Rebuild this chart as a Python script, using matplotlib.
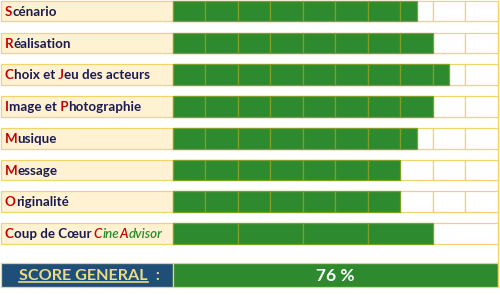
import matplotlib.pyplot as plt
import numpy as np

# --- donnees ---
criteres = [
    [("S", "r"), ("cénario", "n")],
    [("R", "r"), ("éalisation", "n")],
    [("C", "r"), ("hoix et", "n"), (" J", "r"), ("eu des acteurs", "n")],
    [("I", "r"), ("mage et", "n"), (" P", "r"), ("hotographie", "n")],
    [("M", "r"), ("usique", "n")],
    [("M", "r"), ("essage", "n")],
    [("O", "r"), ("riginalité", "n")],
    [("C", "r"), ("oup de Cœur", "n"), (" C", "ri"), ("ine", "gi"), ("A", "ri"), ("dvisor", "gi")],
]
notes = [7.5, 8, 8.5, 8, 7.5, 7, 7, 8]
pas = [1, 1, 1, 1, 1, 1, 1, 2]
score = 76
score_label = "SCORE GENERAL"

# --- couleurs ---
vert = "#2e8a2e"
olive = "#7fa026"
creme = "#fff2d2"
or_ = "#f0d56a"
bleu = "#1f4e79"
jaune = "#ecdc86"
rouge = "#c80000"
marine = "#1b1b4f"
vert_txt = "#2e8a2e"

plt.rcParams['font.family'] = ['Lato', 'DejaVu Sans']

fig = plt.figure(figsize=(5, 2.95), dpi=100)
ax = fig.add_axes([0, 0, 1, 1])
ax.set_xlim(-5.323, 10.062)
ax.set_ylim(8.937, -0.354)
ax.axis('off')

h = 0.646
n = len(criteres)
rows = np.arange(n)

# colonne des libelles
ax.barh(rows, 5.29, left=-5.29, height=h, color=creme, edgecolor=or_, lw=0.9)

for i, (note, step) in enumerate(zip(notes, pas)):
    lefts = np.arange(0, 10, step)
    ax.barh([i] * len(lefts), step, left=lefts, height=h, color="white",
            edgecolor=or_, lw=0.9)
    widths = np.clip(note - lefts, 0, step)
    m = widths > 0
    ax.barh([i] * m.sum(), widths[m], left=lefts[m], height=h, color=vert,
            edgecolor=olive, lw=0.9)


def texte_multi(x, y, parts, size):
    styles = {"r": (rouge, "normal", "bold"), "n": (marine, "normal", "bold"),
              "ri": (rouge, "italic", "semibold"), "gi": (vert_txt, "italic", "semibold")}
    col, st, w = styles[parts[0][1]]
    t = ax.text(x, y, parts[0][0], color=col, style=st, va="center",
                ha="left", fontsize=size, fontweight=w)
    for txt, key in parts[1:]:
        col, st, w = styles[key]
        t = ax.annotate(txt, xy=(1, 0), xycoords=t, va="bottom", ha="left",
                        color=col, style=st, fontsize=size, fontweight=w)


for i, parts in enumerate(criteres):
    texte_multi(-5.17, i + 0.02, parts, 9.6)

# score general
ys = 8.307
hs = 0.756
ax.barh(ys, 5.29, left=-5.29, height=hs, color=bleu, edgecolor=or_, lw=0.9)
ax.barh(ys, 10, left=0, height=hs, color=vert, edgecolor=or_, lw=0.9)
ax.text(5, ys + 0.02, f"{score} %", color="white", fontsize=12.5,
        fontweight="bold", ha="center", va="center")
ts = ax.text(-4.74, ys + 0.02, score_label, color=jaune, fontsize=11.6,
             fontweight="bold", ha="left", va="center")
ax.annotate("  :", xy=(1, 0), xycoords=ts, va="bottom", ha="left",
            color=jaune, fontsize=11.6, fontweight="bold")

# soulignement
fig.canvas.draw()
bb = ts.get_window_extent(fig.canvas.get_renderer())
inv = ax.transData.inverted()
(x0, y0), (x1, _) = inv.transform([(bb.x0, bb.y0), (bb.x1, bb.y0)])
ax.plot([x0, x1], [y0 - 0.03, y0 - 0.03], color=jaune, lw=1.2)

ax.plot([10, 10], [-0.32, ys + hs / 2], color=or_, lw=0.9)

fig.savefig("out.png", dpi=100)
